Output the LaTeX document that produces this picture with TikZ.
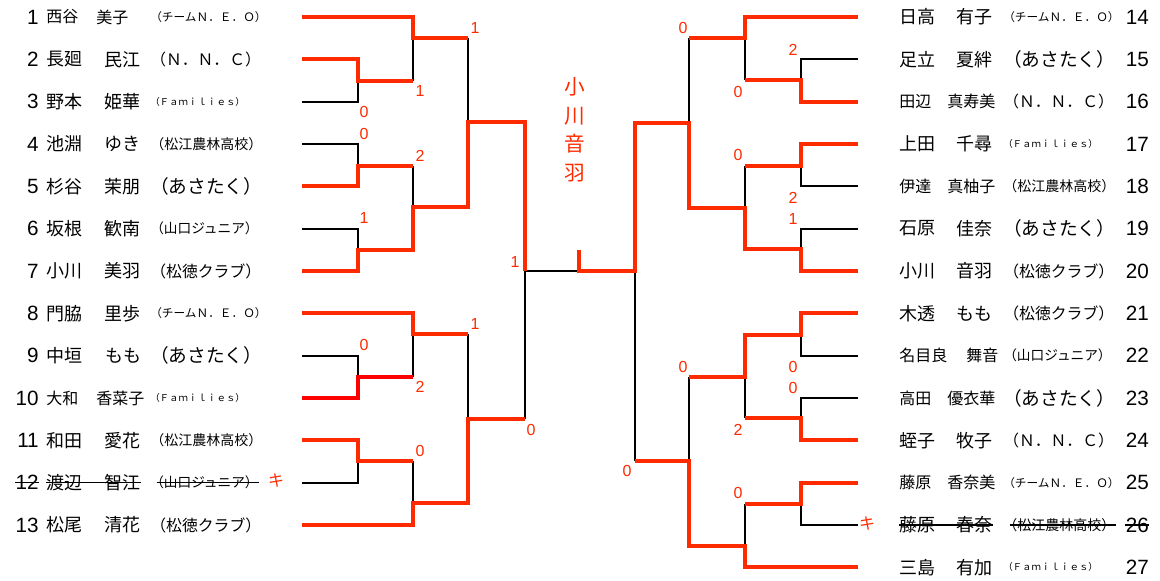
\documentclass[tikz,border=0pt]{standalone}
\usepackage{fontspec}
\setmainfont{Liberation Sans}
\newfontfamily\jp{Noto Sans CJK JP}
\usepackage{xcolor}
\usepackage{tikz}
\usetikzlibrary{calc}
\definecolor{brk}{HTML}{FF2B00}
\definecolor{brkPure}{HTML}{FF0000}

% team names, each in its own size
\newcommand\tNEO{\fontsize{8.75}{9}\selectfont （チームＮ．Ｅ．Ｏ）}
\newcommand\tNNC{\fontsize{11.85}{12}\selectfont （Ｎ．Ｎ．Ｃ）}
\newcommand\tFAM{\fontsize{7.1}{8}\selectfont （Ｆａｍｉｌｉｅｓ）}
\newcommand\tMATSUE{\fontsize{10.5}{11}\selectfont （松江農林高校）}
\newcommand\tASA{\fontsize{14}{15}\selectfont （あさたく）}
\newcommand\tYAMA{\fontsize{10.25}{11}\selectfont （山口ジュニア）}
\newcommand\tSHO{\fontsize{11.9}{12}\selectfont （松徳クラブ）}

\tikzset{
  win/.style={draw=brk, line width=3pt},
  lose/.style={draw=black, line width=1.5pt},
  num/.style={font=\fontsize{15.5}{16}\selectfont, inner sep=0pt},
  nm/.style={inner sep=0pt, anchor=west},
  team/.style={font=\jp, inner sep=0pt, anchor=west},
  score/.style={text=brk, font=\fontsize{12}{12}\selectfont, inner sep=0pt},
  strike/.style={draw=black, line width=1pt},
  kiken/.style={text=brk, font=\jp\fontsize{12}{12}\selectfont, inner sep=0pt},
}

\begin{document}
\begin{tikzpicture}[x=0.75pt, y=-0.75pt]
  \fill[white] (0,0) rectangle (1160,581);
  \useasboundingbox (0,0) rectangle (1160,581);

  % left block
  \foreach \n/\sur/\giv/\gx/\sz/\club in {
      1/西谷/美子/97/12/\tNEO, 2/長廻/民江/105/13.5/\tNNC,
      3/野本/姫華/105/13.5/\tFAM, 4/池淵/ゆき/105/13.5/\tMATSUE,
      5/杉谷/茉朋/105/13.5/\tASA, 6/坂根/歓南/105/13.5/\tYAMA,
      7/小川/美羽/105/13.5/\tSHO, 8/門脇/里歩/105/13.5/\tNEO,
      9/中垣/もも/106/13.5/\tASA, 10/大和/香菜子/97/12/\tFAM,
      11/和田/愛花/105/13.5/\tMATSUE, 12/渡辺/智江/105/13.5/\tYAMA,
      13/松尾/清花/105/13.5/\tSHO}{
    \pgfmathsetmacro\y{17+42.33*(\n-1)}
    \coordinate (p\n) at (302,\y);
    \node[num, anchor=east] (n\n) at (39,\y) {\n};
    \node[nm, font=\jp\fontsize{\sz}{\sz}\selectfont] (f\n) at (46,\y) {\sur};
    \node[nm, font=\jp\fontsize{\sz}{\sz}\selectfont] (g\n) at (\gx-1,\y) {\giv};
    \node[team] (t\n) at (150,\y) {\club};
  }

  % right block
  \foreach \n/\sur/\giv/\gx/\sz/\club in {
      14/日高/有子/957/13.5/\tNEO, 15/足立/夏絆/957/13.5/\tASA,
      16/田辺/真寿美/948/12/\tNNC, 17/上田/千尋/957/13.5/\tFAM,
      18/伊達/真柚子/948/12/\tMATSUE, 19/石原/佳奈/957/13.5/\tASA,
      20/小川/音羽/957/13.5/\tSHO, 21/木透/もも/957/13.5/\tSHO,
      22/名目良/舞音/967/12/\tYAMA, 23/高田/優衣華/948/12/\tASA,
      24/蛭子/牧子/957/13.5/\tNNC, 25/藤原/香奈美/948/12/\tNEO,
      26/藤原/春奈/957/13.5/\tMATSUE, 27/三島/有加/957/13.5/\tFAM}{
    \pgfmathsetmacro\y{17+42.33*(\n-14)}
    \coordinate (p\n) at (858,\y);
    \node[num, anchor=east] (n\n) at (1149,\y) {\n};
    \node[nm, font=\jp\fontsize{\sz}{\sz}\selectfont] (f\n) at (899,\y) {\sur};
    \node[nm, font=\jp\fontsize{\sz}{\sz}\selectfont] (g\n) at (\gx-1,\y) {\giv};
    \node[team] (t\n) at (1003,\y) {\club};
  }

  % withdrawn
  \draw[strike] (n12.west) -- (n12.east);
  \draw[strike] (f12.west) -- (g12.east);
  \draw[strike] ([xshift=5pt]t12.west) -- (t12.east);
  \draw[strike] (f26.west) -- (g26.east);
  \draw[strike] ([xshift=5pt]t26.west) -- (t26.east);
  \draw[strike] (n26.west) -- (n26.east);
  \node[kiken] (k12) at (276,481) {キ};
  \node[kiken] (k26) at (867,524) {キ};

  % losing sides
  \draw[lose] (p3) -| (358,81);
  \draw[lose] (413,38) -- (413,81);
  \draw[lose] (p4) -| (358,166);
  \draw[lose] (p6) -| (358,250);
  \draw[lose] (413,166) -- (413,207);
  \draw[lose] (468,38) -- (468,122);
  \draw[lose] (p9) -| (358,377);
  \draw[lose] (413,334) -- (413,377);
  \draw[lose] (p12) -| (358,461);
  \draw[lose] (413,461) -- (413,503);
  \draw[lose] (468,334) -- (468,419);
  \draw[lose] (525,419) -- (525,271) -- (579,271);
  \draw[lose] (p15) -| (801,80);
  \draw[lose] (745,38) -- (745,80);
  \draw[lose] (p18) -| (801,166);
  \draw[lose] (p19) -| (801,249);
  \draw[lose] (745,166) -- (745,208);
  \draw[lose] (689,38) -- (689,123);
  \draw[lose] (p22) -| (801,335);
  \draw[lose] (p23) -| (801,418);
  \draw[lose] (745,377) -- (745,418);
  \draw[lose] (689,377) -- (689,461);
  \draw[lose] (p26) -| (801,504);
  \draw[lose] (745,504) -- (745,546);
  \draw[lose] (635,271) -- (635,461);

  % winning sides
  \draw[win] (p1) -| (413,38) -- (468,38);
  \draw[win] (p2) -| (358,81) -- (413,81);
  \draw[win] (p5) -| (358,166) -- (413,166);
  \draw[win] (p7) -| (358,250) -- (413,250) |- (468,207) |- (525,122) -- (525,271);
  \draw[win] (p8) -| (413,334) -- (468,334);
  \draw[win, draw=brkPure] (p10) -| (358,377) -- (413,377);
  \draw[win] (p11) -| (358,461) -- (413,461);
  \draw[win] (p13) -| (413,503) -- (468,503) |- (525,419);
  \draw[win] (579,250) |- (635,271) |- (689,123) |- (745,208) |- (801,249) |- (p20);
  \draw[win] (p14) -| (745,38) -- (689,38);
  \draw[win] (p16) -| (801,80) -- (745,80);
  \draw[win] (p17) -| (801,166) -- (745,166);
  \draw[win] (p21) -| (801,335) -- (745,335) |- (689,377);
  \draw[win] (p24) -| (801,418) -- (745,418);
  \draw[win] (p25) -| (801,504) -- (745,504);
  \draw[win] (p27) -| (745,546) -- (689,546) |- (635,461);

  % scores
  \foreach \x/\y/\v [count=\i] in {
      475/28/1, 420/91/1, 364/112/0, 364/134/0, 420/156/2, 364/218/1,
      515/262/1, 475/324/1, 364/345/0, 420/387/2, 420/451/0, 531/430/0,
      683/28/0, 793/50/2, 738/92/0, 738/155/0, 793/198/2, 793/219/1,
      683/367/0, 793/367/0, 793/388/0, 738/430/2, 738/493/0, 627/471/0}
    \node[score] (s\i) at (\x,\y) {\v};

  \node[text=brk, font=\jp\fontsize{15.5}{21.4}\selectfont, align=center,
        inner sep=0pt] (champ) at (575,129.5) {小\\川\\音\\羽};
\end{tikzpicture}
\end{document}
